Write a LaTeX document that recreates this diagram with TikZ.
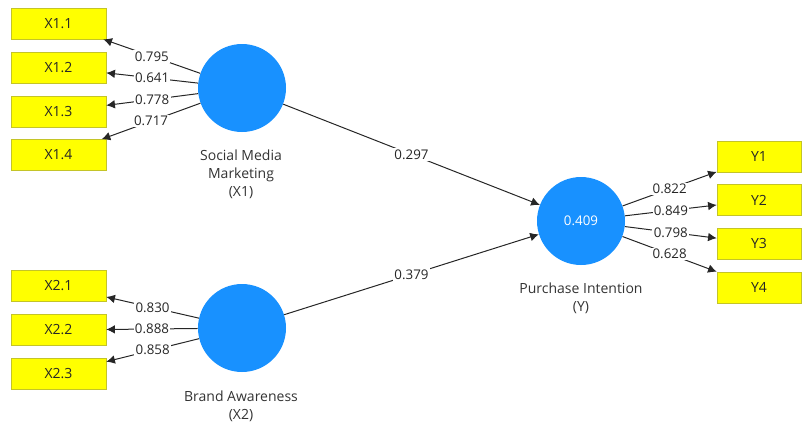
\documentclass[tikz,border=0pt]{standalone}
\usepackage{fontspec}
\setmainfont{Open Sans}
\usetikzlibrary{arrows.meta}
\definecolor{lvblue}{RGB}{24,145,255}
\definecolor{mvfill}{RGB}{255,255,0}
\definecolor{mvline}{RGB}{196,196,40}

\begin{document}
\begin{tikzpicture}[x=0.75pt,y=-0.75pt,>={Latex[length=6.5pt,width=6.5pt]},
  lv/.style={circle,fill=lvblue,minimum size=66pt,inner sep=0pt,text=white,font=\fontsize{10}{11}\selectfont},
  mv/.style={rectangle,draw=mvline,fill=mvfill,minimum width=71.25pt,minimum height=23.25pt,inner sep=0pt,text=black!85,font=\fontsize{10.5}{12}\selectfont},
  coef/.style={fill=white,inner sep=1pt,text=black!85,font=\fontsize{10}{11}\selectfont},
  lbl/.style={align=center,text=black!80,font=\fontsize{10.5}{13.5}\selectfont},
  path/.style={draw=black!85,line width=0.75pt,->}]
  \useasboundingbox (0,0) rectangle (802,426);
  % latent variables
  \node[lv] (SMM) at (242,88) {};
  \node[lv] (BA) at (242,328) {};
  \node[lv] (PI) at (581,221) {0.409};
  \node[lbl] (SMMl) at (241,174) {Social Media\\Marketing\\(X1)};
  \node[lbl] (BAl) at (241,406) {Brand Awareness\\(X2)};
  \node[lbl] (PIl) at (581,298) {Purchase Intention\\(Y)};
  % indicators
  \node[mv] (X11) at (58.5,23.5) {X1.1};
  \node[mv] (X12) at (58.5,67.5) {X1.2};
  \node[mv] (X13) at (58.5,111.5) {X1.3};
  \node[mv] (X14) at (58.5,155) {X1.4};
  \node[mv] (X21) at (58.5,286) {X2.1};
  \node[mv] (X22) at (58.5,330) {X2.2};
  \node[mv] (X23) at (58.5,373.5) {X2.3};
  \node[mv,minimum width=63pt] (Y1) at (759,156.5) {Y1};
  \node[mv,minimum width=63pt] (Y2) at (759,200) {Y2};
  \node[mv,minimum width=63pt] (Y3) at (759,243.5) {Y3};
  \node[mv,minimum width=63pt] (Y4) at (759,287.5) {Y4};
  % outer loadings
  \draw[path] (SMM) -- node[coef] {0.795} (X11);
  \draw[path] (SMM) -- node[coef] {0.641} (X12);
  \draw[path] (SMM) -- node[coef] {0.778} (X13);
  \draw[path] (SMM) -- node[coef] {0.717} (X14);
  \draw[path] (BA) -- node[coef] {0.830} (X21);
  \draw[path] (BA) -- node[coef] {0.888} (X22);
  \draw[path] (BA) -- node[coef] {0.858} (X23);
  \draw[path] (PI) -- node[coef] {0.822} (Y1);
  \draw[path] (PI) -- node[coef] {0.849} (Y2);
  \draw[path] (PI) -- node[coef] {0.798} (Y3);
  \draw[path] (PI) -- node[coef] {0.628} (Y4);
  % path coefficients
  \draw[path] (SMM) -- node[coef] {0.297} (PI);
  \draw[path] (BA) -- node[coef] {0.379} (PI);
\end{tikzpicture}
\end{document}
